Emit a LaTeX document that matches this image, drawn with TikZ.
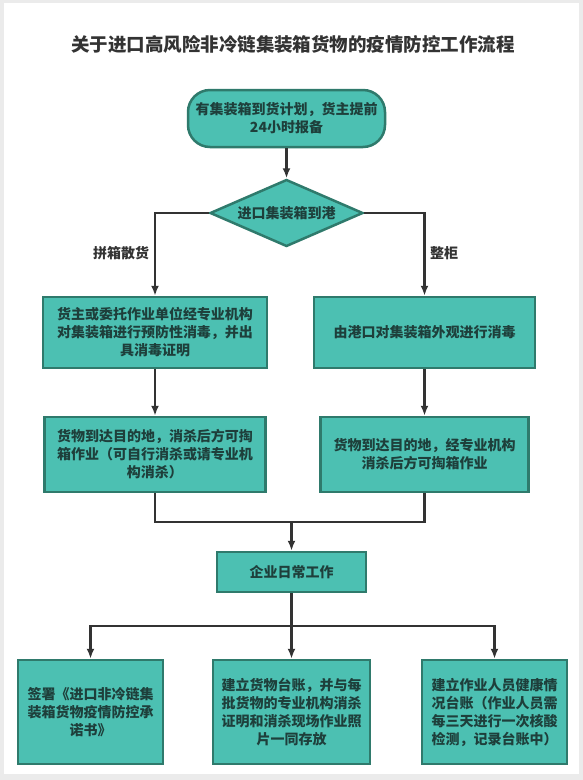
\documentclass[tikz,border=0pt]{standalone}
\usepackage{fontspec}
\setmainfont{Noto Sans CJK SC}
\usetikzlibrary{shapes.geometric,arrows.meta}
\XeTeXlinebreaklocale "zh"
\definecolor{boxfill}{HTML}{4CC0B2}
\definecolor{boxline}{HTML}{2F7A6C}
\definecolor{boxtext}{HTML}{1E3F3B}
\definecolor{conn}{HTML}{333333}
\definecolor{frame}{HTML}{EBEBEB}
\begin{document}
\begin{tikzpicture}[x=1pt,y=-1pt,
  every node/.style={inner sep=0pt},
  fbox/.style={draw=boxline, line width=2.5pt, fill=boxfill, text=boxtext,
    font=\fontsize{14}{18}\selectfont\bfseries, align=center},
  termbox/.style={fbox, rounded corners=22pt},
  decbox/.style={fbox, shape=diamond, aspect=2.3},
  conline/.style={draw=conn, line width=2.4pt},
  conarrow/.style={conline, -{Latex[length=10pt,width=8pt]}},
  lbl/.style={text=conn, font=\fontsize{14}{18}\selectfont\bfseries}
]
\useasboundingbox (0,0) rectangle (583,780);
\fill[frame] (0,0) rectangle (583,780);
\fill[white] (4,3) rectangle (579,774);

\node[text=conn, font=\fontsize{18.5}{22}\selectfont\bfseries] (title) at (293,44)
  {关于进口高风险非冷链集装箱货物的疫情防控工作流程};

\node[termbox, minimum width=197pt, minimum height=57pt] (start) at (286.5,118.5)
  {有集装箱到货计划，货主提前\\24小时报备};

\node[decbox, minimum width=153pt, minimum height=67pt] (dec) at (286.5,213)
  {进口集装箱到港};

\node[fbox, minimum width=224pt, minimum height=71pt] (b1L) at (155,332.5)
  {货主或委托作业单位经专业机构\\对集装箱进行预防性消毒，并出\\具消毒证明};
\node[fbox, minimum width=221pt, minimum height=71pt] (b1R) at (424.5,332.5)
  {由港口对集装箱外观进行消毒};

\node[fbox, minimum width=221pt, minimum height=75pt] (b2L) at (155,454.5)
  {货物到达目的地，消杀后方可掏\\箱作业（可自行消杀或请专业机\\构消杀）};
\node[fbox, minimum width=208pt, minimum height=75pt] (b2R) at (424.5,454.5)
  {货物到达目的地，经专业机构\\消杀后方可掏箱作业};

\node[fbox, minimum width=149pt, minimum height=40pt] (work) at (291.5,572)
  {企业日常工作};

\node[fbox, minimum width=145pt, minimum height=104pt] (bL) at (90.5,712)
  {签署《进口非冷链集\\装箱货物疫情防控承\\诺书》};
\node[fbox, minimum width=157pt, minimum height=104pt] (bM) at (291.5,712)
  {建立货物台账，并与每\\批货物的专业机构消杀\\证明和消杀现场作业照\\片一同存放};
\node[fbox, minimum width=145pt, minimum height=104pt] (bR) at (494.5,712)
  {建立作业人员健康情\\况台账（作业人员需\\每三天进行一次核酸\\检测，记录台账中）};

\coordinate (merge) at (291.5,522);
\coordinate (split) at (291.5,626);

\draw[conarrow] (start.south) -- (dec.north);
\draw[conarrow] (dec.west) -| (b1L.north);
\draw[conarrow] (dec.east) -| (b1R.north);
\draw[conarrow] (b1L.south) -- (b2L.north);
\draw[conarrow] (b1R.south) -- (b2R.north);
\draw[conline] (b2L.south) |- (merge) -| (b2R.south);
\draw[conarrow] (merge) -- (work.north);
\draw[conline] (work.south) -- (split);
\draw[conarrow] (split) -| (bL.north);
\draw[conarrow] (split) -- (bM.north);
\draw[conarrow] (split) -| (bR.north);

\node[lbl] (lblL) at (121,253) {拼箱散货};
\node[lbl] (lblR) at (444,253) {整柜};
\end{tikzpicture}
\end{document}
